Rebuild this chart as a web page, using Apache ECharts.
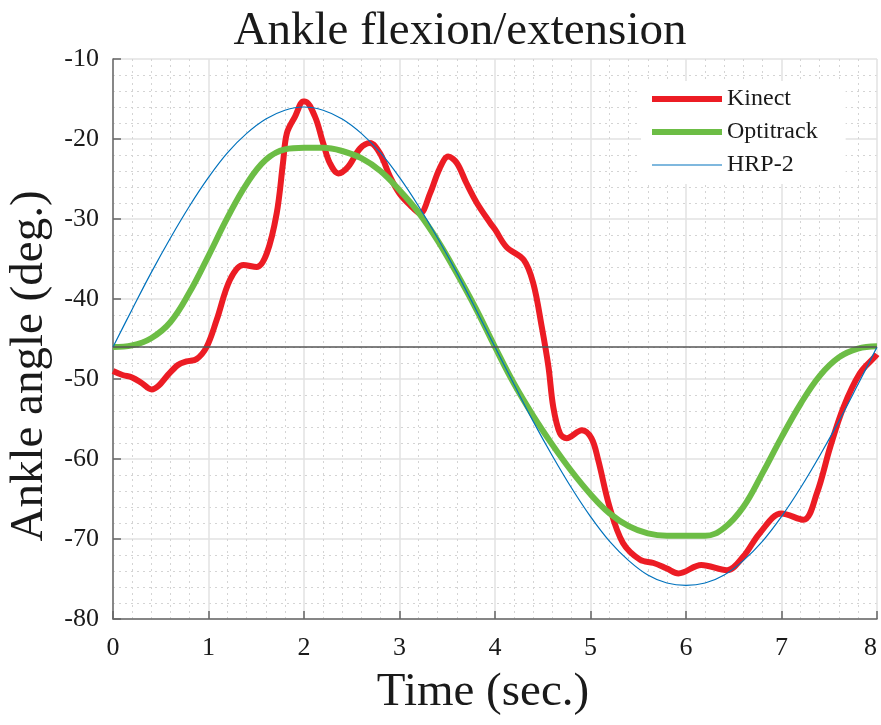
<!DOCTYPE html>
<html>
<head>
<meta charset="utf-8">
<title>Ankle flexion/extension</title>
<script src="https://cdn.jsdelivr.net/npm/echarts@6/dist/echarts.min.js"></script>
<style>
  html, body { margin: 0; padding: 0; background: #ffffff; }
  #chart { width: 881px; height: 725px; }
</style>
</head>
<body>
<div id="chart"></div>
<script>
// Kinect estimate of the ankle angle (time in s, angle in deg)
const kinectTime = [0, 0.1, 0.2, 0.3, 0.405, 0.48, 0.56, 0.68, 0.77, 0.876, 0.98, 1.086, 1.225, 1.365, 1.505, 1.61, 1.714, 1.78, 1.82, 1.906, 1.993, 2.01, 2.115, 2.2, 2.27, 2.36, 2.46, 2.586, 2.69, 2.796, 2.9, 3.0, 3.11, 3.215, 3.32, 3.42, 3.51, 3.6, 3.7, 3.81, 3.95, 4.0, 4.12, 4.3, 4.4, 4.49, 4.56, 4.61, 4.68, 4.75, 4.91, 5.01, 5.08, 5.2, 5.34, 5.52, 5.66, 5.8, 5.92, 6.16, 6.43, 6.6, 6.77, 7.0, 7.23, 7.37, 7.51, 7.65, 7.82, 7.98, 8.0];
const kinectAngle = [-49.0, -49.5, -49.8, -50.5, -51.3, -50.8, -49.7, -48.25, -47.8, -47.5, -46.0, -42.6, -37.6, -35.75, -36.0, -34.3, -29.3, -23.0, -19.3, -17.2, -15.3, -15.3, -17.2, -20.5, -23.0, -24.3, -23.5, -21.2, -20.5, -21.8, -24.7, -26.8, -28.25, -29.3, -26.8, -23.7, -22.2, -23.0, -25.5, -28.0, -30.5, -31.3, -33.5, -35.1, -38.0, -43.5, -48.5, -53.5, -56.8, -57.4, -56.4, -57.4, -60.1, -66.0, -70.5, -72.6, -73.0, -73.7, -74.3, -73.25, -73.9, -72.2, -69.3, -66.8, -67.6, -64.3, -58.5, -53.5, -49.3, -47.2, -46.9];

// Optitrack motion-capture reference
const optitrackTime = [0, 0.2, 0.4, 0.6, 0.8, 1.0, 1.2, 1.4, 1.6, 1.8, 2.0, 2.2, 2.4, 2.6, 2.8, 3.0, 3.2, 3.4, 3.6, 3.8, 4.0, 4.2, 4.4, 4.6, 4.8, 5.0, 5.2, 5.4, 5.6, 5.8, 6.0, 6.2, 6.4, 6.6, 6.8, 7.0, 7.2, 7.4, 7.6, 7.8, 8.0];
const optitrackAngle = [-46.0, -45.8, -44.9, -42.9, -39.2, -34.6, -29.8, -25.6, -22.6, -21.3, -21.1, -21.1, -21.5, -22.4, -24.0, -26.4, -29.2, -32.7, -36.8, -41.2, -46.0, -50.6, -54.6, -58.2, -61.5, -64.4, -66.8, -68.4, -69.3, -69.6, -69.6, -69.6, -68.6, -66.0, -61.8, -57.3, -53.1, -49.6, -47.3, -46.2, -45.9];

// HRP-2 commanded ankle trajectory
const hrpTime = [0, 0.2, 0.4, 0.6, 0.8, 1.0, 1.2, 1.4, 1.6, 1.8, 2.0, 2.2, 2.4, 2.6, 2.8, 3.0, 3.2, 3.4, 3.6, 3.8, 4.0, 4.2, 4.4, 4.6, 4.8, 5.0, 5.2, 5.4, 5.6, 5.8, 6.0, 6.2, 6.4, 6.6, 6.8, 7.0, 7.2, 7.4, 7.6, 7.8, 8.0];
const hrpAngle = [-46.0, -41.3, -36.7, -32.4, -28.4, -24.8, -21.7, -19.3, -17.5, -16.4, -16.0, -16.4, -17.5, -19.3, -21.7, -24.8, -28.4, -32.4, -36.7, -41.3, -46.0, -50.7, -55.3, -59.6, -63.6, -67.2, -70.3, -72.7, -74.5, -75.5, -75.8, -75.5, -74.5, -72.7, -70.3, -67.2, -63.6, -59.6, -55.3, -50.7, -46.0];

// Neutral ankle angle drawn as a horizontal reference
const referenceAngle = -46;

const xTicks = [0, 1, 2, 3, 4, 5, 6, 7, 8];
const yTicks = [-80, -70, -60, -50, -40, -30, -20, -10];

const zip = (xs, ys) => xs.map((x, i) => [x, ys[i]]);

const serif = '"Liberation Serif", "DejaVu Serif", serif';
const axisColor = '#666666';
const textColor = '#1a1a1a';

const chart = echarts.init(document.getElementById('chart'), null, { renderer: 'canvas' });

chart.setOption({
  backgroundColor: '#ffffff',
  animation: false,
  title: {
    text: 'Ankle flexion/extension',
    left: 455,
    top: 3,
    textAlign: 'center',
    textStyle: { fontFamily: serif, fontSize: 47, fontWeight: 'normal', color: textColor }
  },
  legend: {
    orient: 'vertical',
    left: 641,
    top: 81,
    padding: [6, 28, 7, 8],
    backgroundColor: '#ffffff',
    itemWidth: 70,
    itemHeight: 14,
    itemGap: 9,
    itemStyle: { opacity: 0, borderWidth: 0 },
    lineStyle: { width: 'inherit' },
    textStyle: { fontFamily: serif, fontSize: 24, color: textColor },
    data: ['Kinect', 'Optitrack', 'HRP-2']
  },
  grid: { left: 113, right: 4, top: 59, bottom: 106, containLabel: false, outerBoundsMode: 'none' },
  xAxis: {
    type: 'value',
    min: xTicks[0],
    max: xTicks[xTicks.length - 1],
    interval: 1,
    name: 'Time (sec.)',
    nameLocation: 'middle',
    nameGap: 50,
    nameTextStyle: { fontFamily: serif, fontSize: 47, color: textColor, padding: [0, 24, 0, 0] },
    axisLine: { show: true, onZero: false, lineStyle: { color: axisColor, width: 1.5 } },
    axisTick: { show: true, inside: true, length: 8, lineStyle: { color: axisColor, width: 1.5 } },
    axisLabel: { fontFamily: serif, fontSize: 26, color: textColor, margin: 16, alignMaxLabel: 'right' },
    splitLine: { show: true, lineStyle: { color: '#e2e2e2', width: 1.5 } },
    minorTick: { show: false, splitNumber: 5 },
    minorSplitLine: { show: true, lineStyle: { color: '#d4d4d4', width: 1, type: [2, 4] } }
  },
  yAxis: {
    type: 'value',
    min: yTicks[0],
    max: yTicks[yTicks.length - 1],
    interval: 10,
    name: 'Ankle angle (deg.)',
    nameLocation: 'middle',
    nameGap: 58,
    nameTextStyle: { fontFamily: serif, fontSize: 47, color: textColor, padding: [0, 54, 0, 0] },
    axisLine: { show: true, onZero: false, lineStyle: { color: axisColor, width: 1.5 } },
    axisTick: { show: true, inside: true, length: 8, lineStyle: { color: axisColor, width: 1.5 } },
    axisLabel: { fontFamily: serif, fontSize: 26, color: textColor, margin: 14 },
    splitLine: { show: true, lineStyle: { color: '#e2e2e2', width: 1.5 } },
    minorTick: { show: false, splitNumber: 5 },
    minorSplitLine: { show: true, lineStyle: { color: '#d4d4d4', width: 1, type: [2, 4] } }
  },
  series: [
    {
      name: 'Kinect',
      type: 'line',
      data: zip(kinectTime, kinectAngle),
      smooth: 0.35,
      symbol: 'none',
      lineStyle: { color: '#ec1c24', width: 6 },
      itemStyle: { color: '#ec1c24' }
    },
    {
      name: 'Optitrack',
      type: 'line',
      data: zip(optitrackTime, optitrackAngle),
      smooth: 0.4,
      symbol: 'none',
      lineStyle: { color: '#6cbd45', width: 6 },
      itemStyle: { color: '#6cbd45' }
    },
    {
      name: 'HRP-2',
      type: 'line',
      data: zip(hrpTime, hrpAngle),
      smooth: 0.4,
      symbol: 'none',
      lineStyle: { color: '#0072bd', width: 1.2 },
      itemStyle: { color: '#0072bd' },
      markLine: {
        silent: true,
        symbol: 'none',
        label: { show: false },
        lineStyle: { color: '#555555', width: 1.5, type: 'solid' },
        data: [{ yAxis: referenceAngle }]
      }
    }
  ]
});
</script>
</body>
</html>
